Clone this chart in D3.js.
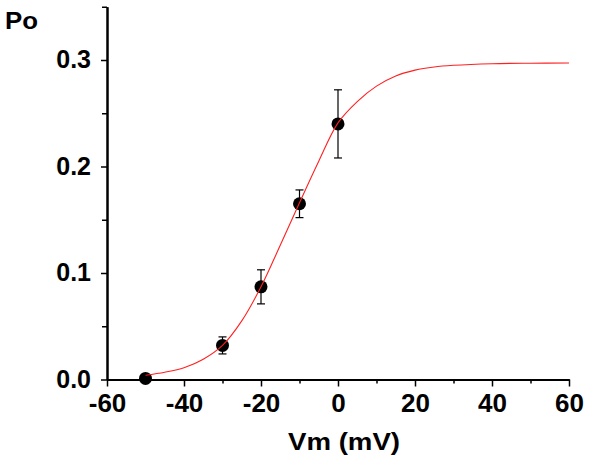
<!DOCTYPE html>
<html>
<head>
<meta charset="utf-8">
<script src="https://cdn.jsdelivr.net/npm/d3@7"></script>
<style>
  html, body { margin: 0; padding: 0; background: #fff; }
  svg { display: block; }
  text { font-family: "Liberation Sans", Arial, sans-serif; font-weight: bold; fill: #000; }
</style>
</head>
<body>
<svg id="chart" width="610" height="469"></svg>
<script>
// ---- data ----
const voltages = [-50, -30, -20, -10, 0];
const poValues = [0.001, 0.032, 0.087, 0.165, 0.240];
const poErrors = [0.0, 0.008, 0.016, 0.013, 0.032];

// fitted curve
const fitV = [-50, -45, -40, -35, -30, -25, -20, -15, -10, -5, 0, 5, 10, 15, 20, 25, 30, 40, 50, 60];
const fitPo = [0.004, 0.0068, 0.011, 0.019, 0.032, 0.055, 0.087, 0.126, 0.166, 0.205, 0.241, 0.261, 0.2755, 0.285, 0.2905, 0.2935, 0.295, 0.2965, 0.297, 0.2972];

const xTicks = [-60, -40, -20, 0, 20, 40, 60];
const xMinorTicks = [-50, -30, -10, 10, 30, 50];
const yTicks = [0.0, 0.1, 0.2, 0.3];
const yMinorTicks = [0.05, 0.15, 0.25, 0.35];
const xTitle = "Vm (mV)";
const yTitle = "Po";

// ---- scales ----
const svg = d3.select("#chart");
const x = d3.scaleLinear().domain([-60, 60]).range([107, 569]);
const y = d3.scaleLinear().domain([0, 0.35]).range([379.5, 6.75]);

// ---- axes ----
const xAxis = svg.append("g").attr("transform", `translate(0,${y(0)})`)
  .call(d3.axisBottom(x).tickValues(xTicks).tickSize(7).tickPadding(5)
    .tickFormat(d => String(d)).tickSizeOuter(0));
const xMinor = svg.append("g").attr("transform", `translate(0,${y(0)})`)
  .call(d3.axisBottom(x).tickValues(xMinorTicks).tickSize(4).tickFormat("").tickSizeOuter(0));
const yAxis = svg.append("g").attr("transform", `translate(${x(-60)},0)`)
  .call(d3.axisLeft(y).tickValues(yTicks).tickSize(6).tickPadding(10)
    .tickFormat(d => d.toFixed(1)).tickSizeOuter(0));
const yMinor = svg.append("g").attr("transform", `translate(${x(-60)},0)`)
  .call(d3.axisLeft(y).tickValues(yMinorTicks).tickSize(5).tickFormat("").tickSizeOuter(0));

[xAxis, xMinor, yAxis, yMinor].forEach(g => {
  g.selectAll("path.domain").attr("stroke", "#000").attr("stroke-width", 2);
  g.selectAll(".tick line").attr("stroke", "#000").attr("stroke-width", 1.5);
  g.selectAll(".tick text").style("font-weight", "bold")
    .style("font-family", '"Liberation Sans", Arial, sans-serif').attr("fill", "#000");
});
xAxis.selectAll(".tick text").style("font-size", "26px").attr("dy", "0.71em").attr("y", 14);
yAxis.selectAll(".tick text").style("font-size", "25px").attr("dy", "0.3em");

// ---- titles ----
svg.append("text").attr("x", 288).attr("y", 450)
  .attr("textLength", 112).attr("lengthAdjust", "spacingAndGlyphs")
  .style("font-size", "23px").text(xTitle);
svg.append("text").attr("x", 5).attr("y", 29)
  .attr("textLength", 33).attr("lengthAdjust", "spacingAndGlyphs")
  .style("font-size", "23px").text(yTitle);

// ---- error bars ----
const pts = voltages.map((v, i) => ({ v, p: poValues[i], e: poErrors[i] }));
const eb = svg.append("g").attr("stroke", "#000").attr("stroke-width", 1.2);
pts.filter(d => d.e > 0).forEach(d => {
  eb.append("line").attr("x1", x(d.v)).attr("x2", x(d.v)).attr("y1", y(d.p - d.e)).attr("y2", y(d.p + d.e));
  eb.append("line").attr("x1", x(d.v) - 4).attr("x2", x(d.v) + 4).attr("y1", y(d.p - d.e)).attr("y2", y(d.p - d.e));
  eb.append("line").attr("x1", x(d.v) - 4).attr("x2", x(d.v) + 4).attr("y1", y(d.p + d.e)).attr("y2", y(d.p + d.e));
});

// ---- markers ----
svg.append("g").selectAll("circle").data(pts).join("circle")
  .attr("cx", d => x(d.v)).attr("cy", d => y(d.p)).attr("r", 6.5).attr("fill", "#000");

// ---- fit curve ----
const line = d3.line().x((d, i) => x(fitV[i])).y(d => y(d)).curve(d3.curveCatmullRom.alpha(0.5));
svg.append("path").attr("d", line(fitPo)).attr("fill", "none")
  .attr("stroke", "#ff2020").attr("stroke-width", 1.1);
</script>
</body>
</html>
